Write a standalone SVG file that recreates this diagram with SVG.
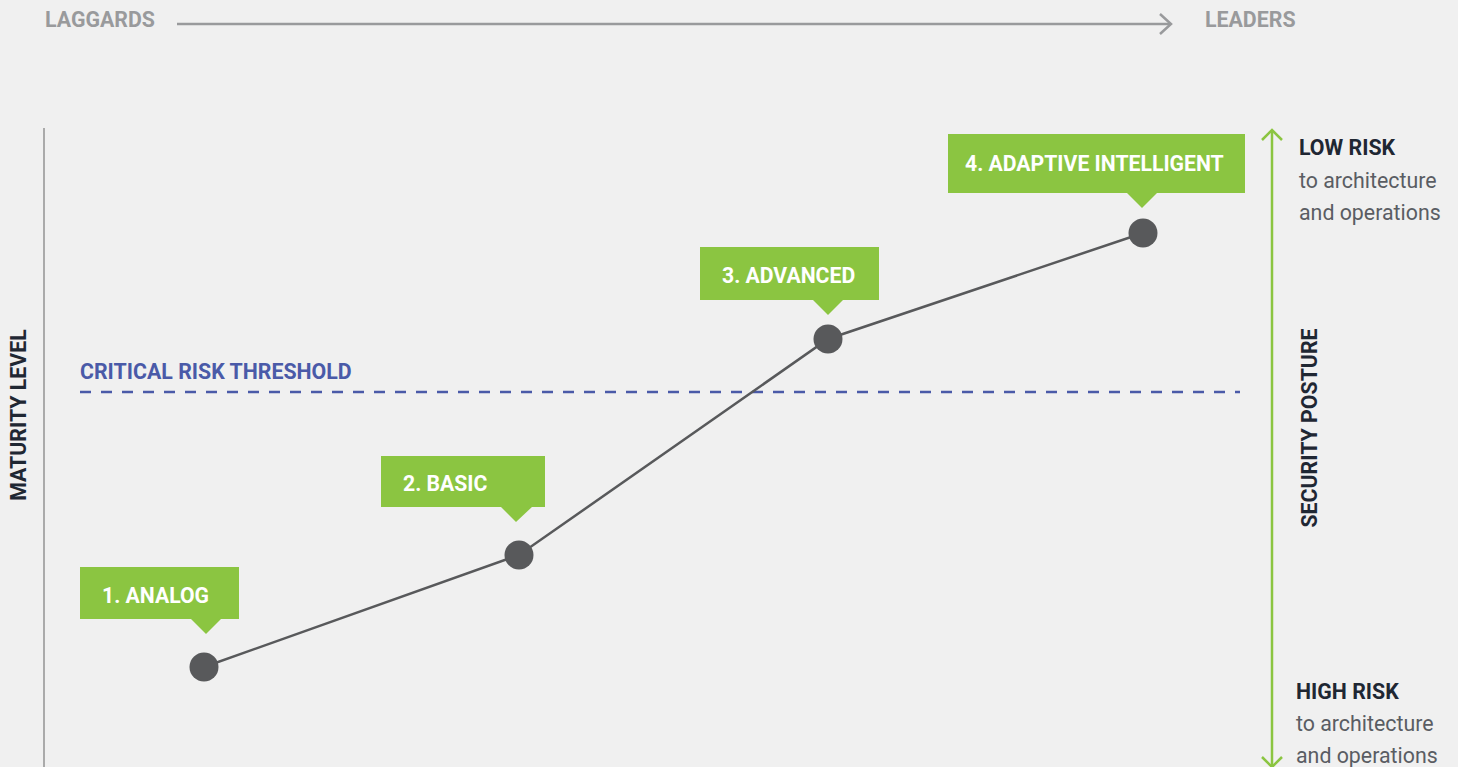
<svg xmlns="http://www.w3.org/2000/svg" width="1458" height="767" viewBox="0 0 1458 767">
<style>
.axis{font-family:Roboto,"Liberation Sans",sans-serif;font-weight:700;font-size:21.33px;fill:#999a9c}
.title{font-family:Roboto,"Liberation Sans",sans-serif;font-weight:700;font-size:21.33px;fill:#1f2733}
.sub{font-family:Roboto,"Liberation Sans",sans-serif;font-weight:400;font-size:21.33px;fill:#5a5d63}
.lbl{font-family:Roboto,"Liberation Sans",sans-serif;font-weight:700;font-size:21.2px;fill:#ffffff}
.box{fill:#8bc541}
.dot{fill:#58595b}
</style>
<rect width="1458" height="767" fill="#f0f0f0"/>
<g id="top-axis">
<text class="axis" x="45" y="27">LAGGARDS</text>
<line x1="177" y1="24" x2="1170" y2="24" stroke="#999a9c" stroke-width="2.5"/>
<polyline points="1160,14 1171,24 1160,34" fill="none" stroke="#999a9c" stroke-width="2.5"/>
<text class="axis" x="1205" y="27">LEADERS</text>
</g>
<g id="maturity-axis">
<line x1="44" y1="128" x2="44" y2="767" stroke="#aaaaaa" stroke-width="2"/>
<text class="title" transform="translate(25.5,415) rotate(-90)" text-anchor="middle">MATURITY LEVEL</text>
</g>
<g id="threshold">
<text x="80" y="379" font-family="Roboto,'Liberation Sans',sans-serif" font-weight="700" font-size="21.33" fill="#4a5aa8">CRITICAL RISK THRESHOLD</text>
<line x1="80" y1="392" x2="1240" y2="392" stroke="#4a5aa8" stroke-width="2.4" stroke-dasharray="11 10"/>
</g>
<g id="connectors">
<polyline points="204,667 519,555 828,339 1143,233" fill="none" stroke="#58595b" stroke-width="2.5"/>
</g>
<g id="node-analog">
<rect class="box" x="80" y="567" width="159" height="52"/>
<polygon class="box" points="190,618 222,618 206,634"/>
<text class="lbl" x="102" y="603">1. ANALOG</text>
<circle class="dot" cx="204" cy="667" r="14.5"/>
</g>
<g id="node-basic">
<rect class="box" x="381" y="456" width="164" height="51"/>
<polygon class="box" points="500,506 533,506 516,522"/>
<text class="lbl" x="403" y="491">2. BASIC</text>
<circle class="dot" cx="519" cy="555" r="14.5"/>
</g>
<g id="node-advanced">
<rect class="box" x="700" y="247" width="179" height="53"/>
<polygon class="box" points="812,299 844,299 828,315"/>
<text class="lbl" x="722" y="283">3. ADVANCED</text>
<circle class="dot" cx="828" cy="339" r="14.5"/>
</g>
<g id="node-adaptive">
<rect class="box" x="948" y="134" width="297" height="59"/>
<polygon class="box" points="1126,192 1158,192 1142,208"/>
<text class="lbl" x="965" y="171">4. ADAPTIVE INTELLIGENT</text>
<circle class="dot" cx="1143" cy="233" r="14.5"/>
</g>
<g id="posture-axis">
<line x1="1272" y1="130" x2="1272" y2="767" stroke="#8bc541" stroke-width="2.5"/>
<polyline points="1262,140 1272,130 1282,140" fill="none" stroke="#8bc541" stroke-width="2.5"/>
<polyline points="1262,757 1272,767 1282,757" fill="none" stroke="#8bc541" stroke-width="2.5"/>
<text class="title" transform="translate(1316.5,428) rotate(-90)" text-anchor="middle">SECURITY POSTURE</text>
</g>
<g id="low-risk">
<text class="title" x="1299" y="155">LOW RISK</text>
<text class="sub" x="1299" y="188">to architecture</text>
<text class="sub" x="1299" y="220">and operations</text>
</g>
<g id="high-risk">
<text class="title" x="1296" y="699">HIGH RISK</text>
<text class="sub" x="1296" y="731">to architecture</text>
<text class="sub" x="1296" y="763">and operations</text>
</g>
</svg>
